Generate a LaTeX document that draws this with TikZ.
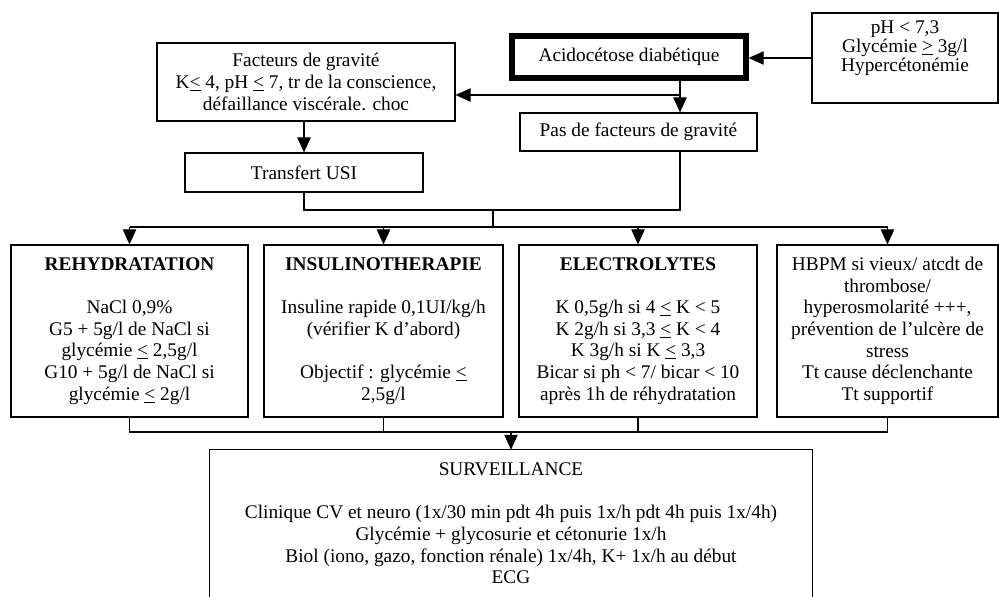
\documentclass[tikz,border=0pt]{standalone}
\usepackage{fontspec}
\setmainfont{Liberation Serif}
\usetikzlibrary{arrows.meta}
\newcommand\myle{\underline{<}}
\newcommand\myge{\underline{>}}
\tikzset{
  px/.style 2 args={minimum width=#1*0.03cm, minimum height=#2*0.03cm},
  bx/.style={draw, line width=0.9pt, inner sep=0pt, align=center},
  txt/.style={inner sep=0pt, align=center},
  ln/.style={line width=0.9pt},
  arr/.style={line width=0.9pt, -{Triangle[length=0.45cm,width=0.4cm]}},
  every node/.style={font=\fontsize{16.5}{18.5}\selectfont},
}
\begin{document}
\begin{tikzpicture}[x=0.03cm, y=-0.03cm]
\useasboundingbox[fill=white] (0,0) rectangle (999,597);

\node[bx, px={298}{78}] (fact) at (306,82)
  {Facteurs de gravité\\K\myle{} 4, pH \myle{} 7, tr de la conscience,\\défaillance viscérale. choc};
\node[bx, line width=4.5pt, px={234}{42}] (acido) at (629,57) {Acidocétose diabétique};
\node[bx, px={186}{90}] (ph) at (905,58) {};
\node[txt] (phT) at (905,48) {pH < 7,3\\[-2.3pt]Glycémie \myge{} 3g/l\\[-2.3pt]Hypercétonémie};
\node[bx, px={237}{38}] (pas) at (638.5,132) {Pas de facteurs de gravité};
\node[bx, px={238}{39}] (usi) at (304,172.5) {Transfert USI};

\node[bx, px={237}{172}] (b1) at (129.5,331)
  {\textbf{REHYDRATATION}\\[18.5pt]NaCl 0,9\%\\G5 + 5g/l de NaCl si\\glycémie \myle{} 2,5g/l\\G10 + 5g/l de NaCl si\\glycémie \myle{} 2g/l};
\node[bx, px={239}{172}] (b2) at (383.5,331)
  {\textbf{INSULINOTHERAPIE}\\[18.5pt]Insuline rapide 0,1UI/kg/h\\(vérifier K d'abord)\\[18.5pt]Objectif : glycémie \myle{}\\2,5g/l};
\node[bx, px={238}{172}] (b3) at (638,331)
  {\textbf{ELECTROLYTES}\\[18.5pt]K 0,5g/h si 4 \myle{} K < 5\\K 2g/h si 3,3 \myle{} K < 4\\K 3g/h si K \myle{} 3,3\\Bicar si ph < 7/ bicar < 10\\après 1h de réhydratation};
\node[bx, px={221}{172}] (b4) at (887.5,331)
  {HBPM si vieux/ atcdt de\\thrombose/\\hyperosmolarité +++,\\prévention de l'ulcère de\\stress\\Tt cause déclenchante\\Tt supportif};

\node[txt, px={602}{147}] (surv) at (511,523.5)
  {SURVEILLANCE\\[18.5pt]Clinique CV et neuro (1x/30 min pdt 4h puis 1x/h pdt 4h puis 1x/4h)\\Glycémie + glycosurie et cétonurie 1x/h\\Biol (iono, gazo, fonction rénale) 1x/4h, K+ 1x/h au début\\ECG};
\draw[ln] (surv.south west) |- (surv.north east) -- (surv.south east);

\coordinate (j1) at (680,95);
\coordinate (m1) at (493,210);
\coordinate (d) at (493,227);
\coordinate (e) at (511,432);

\draw[arr] (ph.west) -- (ph.west -| acido.east);
\draw[arr] (acido.south -| j1) -- (pas.north -| j1);
\draw[arr] (j1) -- (j1 -| fact.east);
\draw[arr] (fact.south -| usi.north) -- (usi.north);
\draw[ln] (usi.south) |- (m1);
\draw[ln] (pas.south -| j1) |- (m1);
\draw[ln] (m1) -- (d);
\draw[ln] (b1.north |- d) -- (b4.north |- d);
\draw[arr] (b1.north |- d) -- (b1.north);
\draw[arr] (b2.north |- d) -- (b2.north);
\draw[arr] (b3.north |- d) -- (b3.north);
\draw[arr] (b4.north |- d) -- (b4.north);
\draw[ln] (b1.south) -- (b1.south |- e) -- (b4.south |- e) -- (b4.south);
\draw[ln] (b2.south) -- (b2.south |- e);
\draw[ln] (b3.south) -- (b3.south |- e);
\draw[arr] (e) -- (surv.north);
\end{tikzpicture}
\end{document}
